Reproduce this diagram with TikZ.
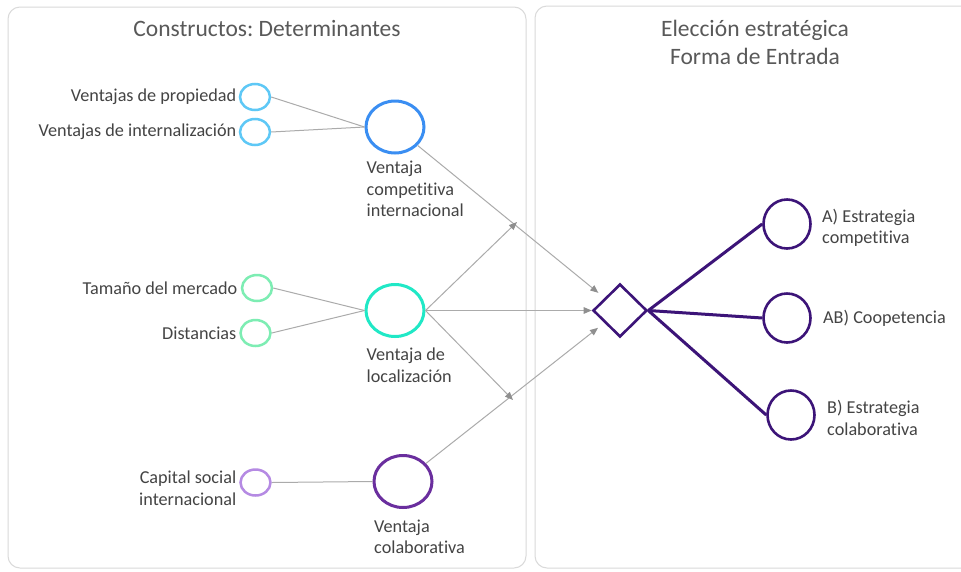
\documentclass[tikz,border=0pt]{standalone}
\usepackage{fontspec}
\setmainfont{Carlito}[Ligatures={NoCommon}]
\usetikzlibrary{shapes.geometric,arrows.meta}
\frenchspacing
\definecolor{panelc}{HTML}{DADADA}
\definecolor{titlec}{HTML}{595959}
\definecolor{labelc}{HTML}{444444}
\definecolor{linec}{HTML}{ABABAB}
\definecolor{arrc}{HTML}{8F8F8F}
\definecolor{lblue}{HTML}{5EC8F6}
\definecolor{dblue}{HTML}{3A8EF2}
\definecolor{lgreen}{HTML}{7DEDB3}
\definecolor{turq}{HTML}{20E8C6}
\definecolor{lav}{HTML}{B58AE3}
\definecolor{purp}{HTML}{6A2E9E}
\definecolor{dpurp}{HTML}{3C1478}
\tikzset{
  panel/.style={draw=panelc, line width=1pt, rounded corners=12pt},
  titletext/.style={font=\fontsize{23.5}{28}\selectfont, text=titlec, align=center, inner sep=0pt},
  lbl/.style={font=\fontsize{18.2}{21.5}\selectfont, text=labelc, inner sep=0pt},
  smallc/.style={ellipse, draw=#1, line width=2.5pt, minimum width=30pt, minimum height=26pt, inner sep=0pt},
  bigc/.style={ellipse, draw=#1, line width=3pt, minimum width=58pt, minimum height=52pt, inner sep=0pt},
  outc/.style={ellipse, draw=dpurp, line width=2.6pt, minimum width=47pt, minimum height=49pt, inner sep=0pt},
  conn/.style={draw=linec, line width=1pt},
  arr/.style={draw=linec, line width=1pt, -{Triangle[length=8pt,width=6.5pt,color=arrc]}},
  thick purple/.style={draw=dpurp, line width=3pt},
}
\begin{document}
\begin{tikzpicture}[x=1pt,y=-1pt]
\useasboundingbox (0,0) rectangle (961,571);
\clip (0,0) rectangle (961,571);
\fill[white] (0,0) rectangle (961,571);
\draw[panel] (8,7) rectangle (526,568);
\draw[panel] (535,6) rectangle (990,568);

\node[titletext] (t1) at (267,29) {Constructos: Determinantes};
\node[titletext] (t2) at (755,42.5) {Elección estratégica\\Forma de Entrada};

% small circles
\node[smallc=lblue] (p1) at (255,97) {};
\node[smallc=lblue] (p2) at (255,132) {};
\node[smallc=lgreen] (m1) at (257,288) {};
\node[smallc=lgreen] (m2) at (255.5,333) {};
\node[smallc=lav] (s1) at (255.5,482.5) {};

\node[lbl, anchor=east] (lp1) at (236.5,97) {Ventajas de propiedad};
\node[lbl, anchor=east] (lp2) at (236.5,132) {Ventajas de internalización};
\node[lbl, anchor=east] (lm1) at (237.5,288) {Tamaño del mercado};
\node[lbl, anchor=east] (lm2) at (236.5,333) {Distancias};
\node[lbl, anchor=east, align=right] (ls1) at (236.5,488) {Capital social\\internacional};

% big circles
\node[bigc=dblue] (c1) at (395,127) {};
\node[bigc=turq] (c2) at (395,310.5) {};
\node[bigc=purp] (c3) at (403,481.5) {};

\node[lbl, anchor=west, align=left] (lc1) at (366.5,189) {Ventaja\\competitiva\\internacional};
\node[lbl, anchor=west, align=left] (lc2) at (366.5,365) {Ventaja de\\localización};
\node[lbl, anchor=west, align=left] (lc3) at (374,537) {Ventaja\\colaborativa};

% diamond
\node[diamond, draw=dpurp, line width=2.6pt, minimum width=54pt, minimum height=53pt, inner sep=0pt] (d) at (620,310.5) {};

% outcome circles
\node[outc] (oa) at (787,224) {};
\node[outc] (oab) at (787,318) {};
\node[outc] (ob) at (791,415) {};

\node[lbl, anchor=west, align=left] (loa) at (822,228) {A) Estrategia\\competitiva};
\node[lbl, anchor=west] (loab) at (823,318) {AB) Coopetencia};
\node[lbl, anchor=west, align=left] (lob) at (827,418) {B) Estrategia\\colaborativa};

% free arrow ends
\coordinate (up) at (517,222);
\coordinate (down) at (513,400);

% grey connectors
\draw[conn] (p1.east) -- (c1.west);
\draw[conn] (p2.east) -- (c1.west);
\draw[conn] (m1.east) -- (c2.west);
\draw[conn] (m2.east) -- (c2.west);
\draw[conn] (s1.east) -- (c3.west);

\draw[arr, shorten >=8pt] (c1) -- (d);
\draw[arr] (c2.east) -- (d.west);
\draw[arr, shorten >=8pt] (c3) -- (d);
\draw[arr] (c2.east) -- (up);
\draw[arr] (c2.east) -- (down);

% purple connectors
\draw[thick purple] (d.east) -- (oa.west);
\draw[thick purple] (d.east) -- (oab.west);
\draw[thick purple] (d.east) -- (ob.west);
\end{tikzpicture}
\end{document}
